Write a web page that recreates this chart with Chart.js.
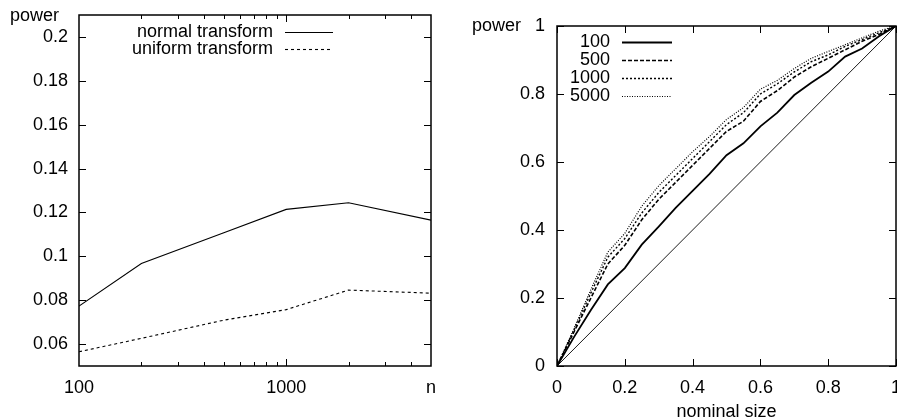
<!DOCTYPE html>
<html>
<head>
<meta charset="utf-8">
<script src="https://cdn.jsdelivr.net/npm/chart.js@4.4.1/dist/chart.umd.min.js"></script>
<style>
  html, body { margin: 0; padding: 0; background: #fff; }
  #wrap { position: relative; width: 897px; height: 419px; overflow: hidden; }
  #left { position: absolute; left: 0; top: 0; }
  #right { position: absolute; left: 460px; top: 0; }
</style>
</head>
<body>
<div id="wrap">
  <canvas id="left" width="450" height="419" style="width:450px;height:419px"></canvas>
  <canvas id="right" width="437" height="419" style="width:437px;height:419px"></canvas>
</div>
<script>
// left panel: power vs n
const sampleSizes = [100, 200, 500, 1000, 2000, 5000];
const normalPower = [0.0773, 0.0967, 0.1107, 0.1214, 0.1244, 0.1165];
const uniformPower = [0.0565, 0.0626, 0.0709, 0.0757, 0.0846, 0.0832];
const leftYTicks = [0.06, 0.08, 0.1, 0.12, 0.14, 0.16, 0.18, 0.2];
const leftYLabels = ['0.06', '0.08', '0.1', '0.12', '0.14', '0.16', '0.18', '0.2'];
const leftXTicks = [100, 1000, 5000];
const leftXLabels = ['100', '1000', 'n'];
const leftXMinor = [200, 300, 400, 500, 600, 700, 800, 900, 2000, 3000, 4000];

// right panel: power vs nominal size
const nominalSize = [0, 0.05, 0.1, 0.15, 0.2, 0.25, 0.3, 0.35, 0.4, 0.45, 0.5,
                     0.55, 0.6, 0.65, 0.7, 0.75, 0.8, 0.85, 0.9, 0.95, 1];
const power100  = [0, 0.085, 0.165, 0.24, 0.288, 0.357, 0.41, 0.465, 0.515, 0.565, 0.62,
                   0.655, 0.705, 0.745, 0.797, 0.833, 0.866, 0.91, 0.934, 0.97, 1];
const power500  = [0, 0.10, 0.20, 0.30, 0.355, 0.43, 0.49, 0.54, 0.59, 0.64, 0.69,
                   0.72, 0.778, 0.81, 0.85, 0.88, 0.905, 0.93, 0.955, 0.975, 1];
const power1000 = [0, 0.105, 0.215, 0.32, 0.375, 0.45, 0.51, 0.56, 0.61, 0.66, 0.71,
                   0.745, 0.80, 0.83, 0.865, 0.895, 0.915, 0.94, 0.96, 0.98, 1];
const power5000 = [0, 0.11, 0.225, 0.335, 0.39, 0.47, 0.53, 0.58, 0.63, 0.675, 0.725,
                   0.76, 0.814, 0.84, 0.875, 0.905, 0.925, 0.945, 0.965, 0.985, 1];
const diagonal = [0, 1];
const rightTicks = [0, 0.2, 0.4, 0.6, 0.8, 1];
const rightLabels = ['0', '0.2', '0.4', '0.6', '0.8', '1'];

const FONT = "'Liberation Sans', Arial, sans-serif";
Chart.defaults.font.family = FONT;
Chart.defaults.font.size = 18;
Chart.defaults.color = '#000';

const pts = (xs, ys) => xs.map((x, i) => ({ x, y: ys[i] }));

// gnuplot-like frame, inward ticks, key and y label
const gnuFrame = {
  id: 'gnuFrame',
  afterDatasetsDraw(chart, args, o) {
    const { ctx, chartArea: a, scales: { x, y } } = chart;
    ctx.save();
    ctx.strokeStyle = '#000';
    ctx.lineWidth = 1;
    ctx.beginPath();
    const xt = (vals, len) => vals.forEach(v => {
      const px = Math.round(x.getPixelForValue(v)) + 0.5;
      ctx.moveTo(px, a.bottom); ctx.lineTo(px, a.bottom - len);
      ctx.moveTo(px, a.top); ctx.lineTo(px, a.top + len);
    });
    const yt = (vals, len) => vals.forEach(v => {
      const py = Math.round(y.getPixelForValue(v)) + 0.5;
      ctx.moveTo(a.left, py); ctx.lineTo(a.left + len, py);
      ctx.moveTo(a.right, py); ctx.lineTo(a.right - len, py);
    });
    xt(o.xMajor, 7);
    xt(o.xMinor || [], 4);
    yt(o.yMajor, 7);
    ctx.stroke();

    ctx.lineWidth = 1.5;
    ctx.strokeRect(a.left, a.top, a.right - a.left, a.bottom - a.top);

    // key
    ctx.font = '18px ' + FONT;
    ctx.fillStyle = '#000';
    ctx.textAlign = 'right';
    ctx.textBaseline = 'middle';
    let row = 0;
    chart.data.datasets.forEach(ds => {
      if (!ds.label) return;
      const ky = o.key.y + row * o.key.row;
      ctx.fillText(ds.label, o.key.x, ky);
      ctx.save();
      ctx.lineWidth = ds.borderWidth;
      ctx.setLineDash(ds.borderDash || []);
      ctx.beginPath();
      ctx.moveTo(o.key.x + 12, Math.round(ky) + 0.5);
      ctx.lineTo(o.key.x + 12 + o.key.len, Math.round(ky) + 0.5);
      ctx.stroke();
      ctx.restore();
      row++;
    });

    ctx.textAlign = 'left';
    ctx.fillText(o.yTitle.text, o.yTitle.x, o.yTitle.y);
    ctx.restore();
  }
};

const fixTicks = (vals) => (scale) => { scale.ticks = vals.map(v => ({ value: v })); };
const fitY = (w) => (scale) => { scale.width = w; scale.paddingTop = 0; scale.paddingBottom = 0; };
const fitX = (h) => (scale) => { scale.height = h; scale.paddingLeft = 0; scale.paddingRight = 0; };
const noGrid = { display: false, drawTicks: false };

new Chart(document.getElementById('left'), {
  type: 'line',
  data: {
    datasets: [
      { label: 'normal transform', data: pts(sampleSizes, normalPower),
        borderColor: '#000', borderWidth: 1.1, pointRadius: 0 },
      { label: 'uniform transform', data: pts(sampleSizes, uniformPower),
        borderColor: '#000', borderWidth: 1.1, borderDash: [3, 3], pointRadius: 0 }
    ]
  },
  options: {
    responsive: false,
    animation: false,
    layout: { padding: { top: 15, right: 19, bottom: 0, left: 0 } },
    plugins: {
      legend: { display: false },
      tooltip: { enabled: false },
      gnuFrame: {
        xMajor: [1000], xMinor: leftXMinor, yMajor: leftYTicks,
        key: { x: 273, y: 32, row: 17, len: 48 },
        yTitle: { text: 'power', x: 10, y: 16 }
      }
    },
    scales: {
      x: {
        type: 'logarithmic', min: 100, max: 5000,
        grid: noGrid, border: { display: false },
        afterBuildTicks: fixTicks(leftXTicks),
        afterFit: fitX(53),
        ticks: { autoSkip: false, maxRotation: 0, padding: 11,
                 callback: (v, i) => leftXLabels[i] }
      },
      y: {
        min: 0.05, max: 0.21,
        grid: noGrid, border: { display: false },
        afterBuildTicks: fixTicks(leftYTicks),
        afterFit: fitY(79),
        ticks: { autoSkip: false, padding: 11, callback: (v, i) => leftYLabels[i] }
      }
    }
  },
  plugins: [gnuFrame]
});

new Chart(document.getElementById('right'), {
  type: 'line',
  data: {
    datasets: [
      { label: '100', data: pts(nominalSize, power100),
        borderColor: '#000', borderWidth: 1.8, pointRadius: 0 },
      { label: '500', data: pts(nominalSize, power500),
        borderColor: '#000', borderWidth: 1.6, borderDash: [4, 2], pointRadius: 0 },
      { label: '1000', data: pts(nominalSize, power1000),
        borderColor: '#000', borderWidth: 1.4, borderDash: [2, 2], pointRadius: 0 },
      { label: '5000', data: pts(nominalSize, power5000),
        borderColor: '#000', borderWidth: 1.2, borderDash: [1, 1.5], pointRadius: 0 },
      { label: '', data: pts(diagonal, diagonal),
        borderColor: '#000', borderWidth: 0.9, pointRadius: 0 }
    ]
  },
  options: {
    responsive: false,
    animation: false,
    layout: { padding: { top: 26, right: 1, bottom: 0, left: 0 } },
    plugins: {
      legend: { display: false },
      tooltip: { enabled: false },
      gnuFrame: {
        xMajor: rightTicks, yMajor: rightTicks,
        key: { x: 150, y: 42, row: 18, len: 50 },
        yTitle: { text: 'power', x: 12, y: 26 }
      }
    },
    scales: {
      x: {
        type: 'linear', min: 0, max: 1,
        grid: noGrid, border: { display: false },
        afterBuildTicks: fixTicks(rightTicks),
        afterFit: fitX(53),
        ticks: { autoSkip: false, maxRotation: 0, padding: 11,
                 callback: (v, i) => rightLabels[i] },
        title: { display: true, text: 'nominal size', padding: { top: 0, bottom: -2 },
                 font: { size: 18, lineHeight: 1 } }
      },
      y: {
        min: 0, max: 1,
        grid: noGrid, border: { display: false },
        afterBuildTicks: fixTicks(rightTicks),
        afterFit: fitY(97),
        ticks: { autoSkip: false, padding: 12, callback: (v, i) => rightLabels[i] }
      }
    }
  },
  plugins: [gnuFrame]
});
</script>
</body>
</html>
